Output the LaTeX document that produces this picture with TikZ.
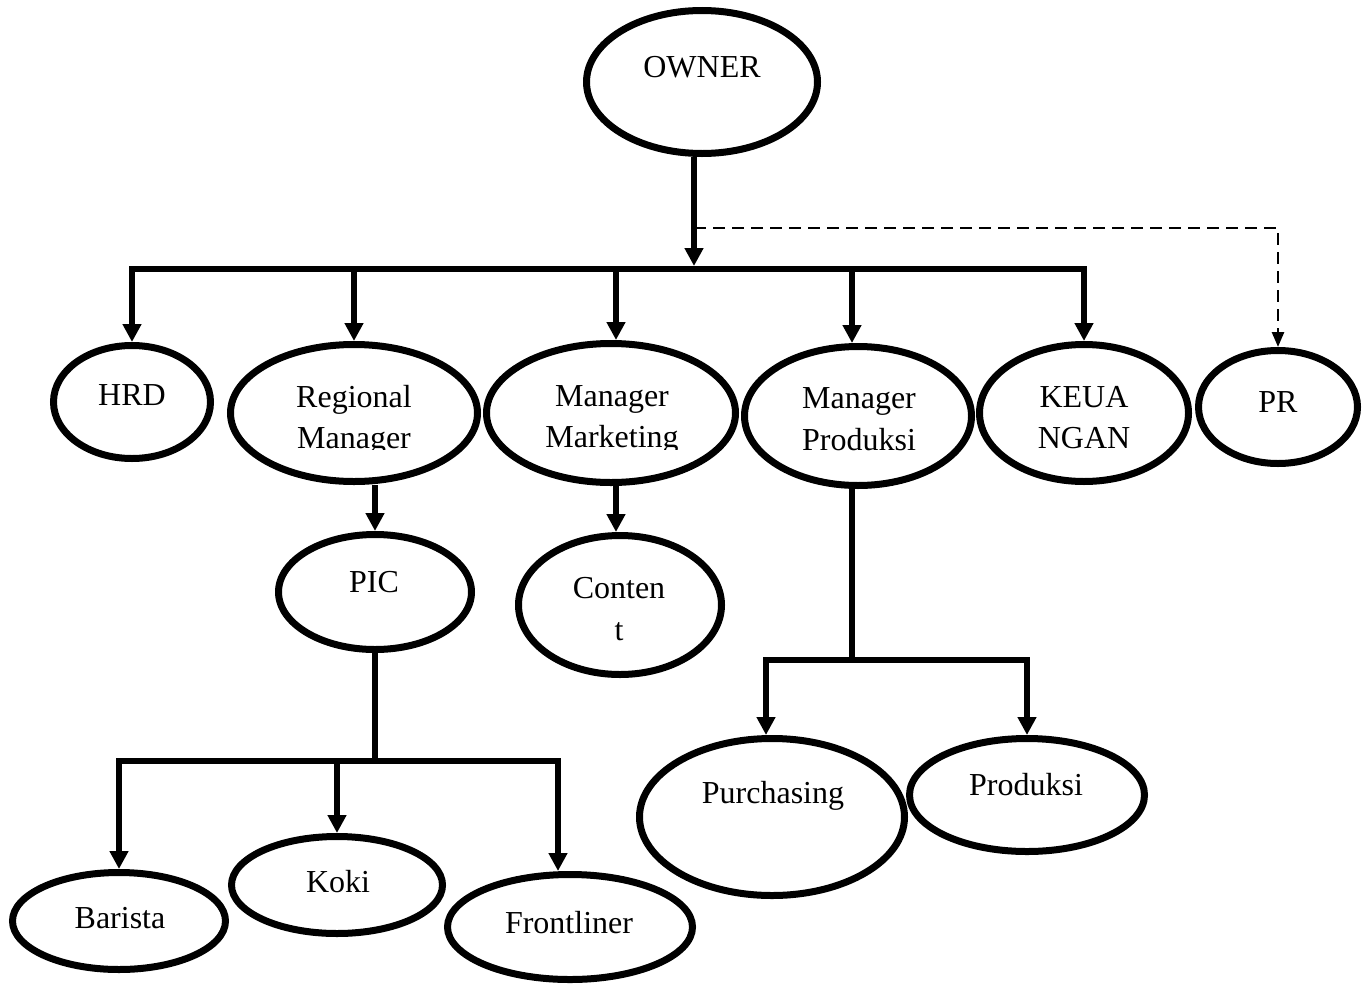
\documentclass[tikz,border=0pt]{standalone}
\usepackage{fontspec}
\setmainfont{Liberation Serif}
\usetikzlibrary{shapes.geometric,arrows.meta}
\begin{document}
\begin{tikzpicture}[x=0.5pt,y=-0.5pt,
  ell/.style={draw, ellipse, line width=3.5pt, inner sep=0pt},
  txt/.style={font=\fontsize{16}{20.5}\selectfont, inner sep=0pt, anchor=base},
  conn/.style={line width=3.25pt},
  arr/.style={line width=3.25pt, -{Triangle[width=9pt,length=9pt]}},
  darr/.style={line width=1.3pt, dash pattern=on 6pt off 3.5pt, -{Triangle[width=6pt,length=7.5pt]}}]
\path[use as bounding box] (0,0) rectangle (1370,985);

% ellipses: min width/height = (outer radius - 3.5) pt
\node[ell, minimum width=115.5pt, minimum height=71.5pt] (owner) at (702,82) {};
\node[ell, minimum width=78.5pt,  minimum height=56.5pt] (hrd)   at (132,402) {};
\node[ell, minimum width=123.5pt, minimum height=68.5pt] (reg)   at (354,413) {};
\node[ell, minimum width=124.5pt, minimum height=69.5pt] (mkt)   at (611,413) {};
\node[ell, minimum width=113.5pt, minimum height=69.5pt] (mprod) at (858,416) {};
\node[ell, minimum width=104.5pt, minimum height=68.5pt] (keu)   at (1084,413) {};
\node[ell, minimum width=79.5pt,  minimum height=56.5pt] (pr)    at (1278,407) {};
\node[ell, minimum width=96.5pt,  minimum height=57.5pt] (pic)   at (375,592) {};
\node[ell, minimum width=101.5pt, minimum height=69.5pt] (cont)  at (620,605) {};
\node[ell, minimum width=106.5pt, minimum height=48.5pt] (barista) at (119,921) {};
\node[ell, minimum width=105.5pt, minimum height=48.5pt] (koki)  at (337,885) {};
\node[ell, minimum width=122.5pt, minimum height=52.5pt] (front) at (570,927) {};
\node[ell, minimum width=132.5pt, minimum height=78.5pt] (purch) at (772,817) {};
\node[ell, minimum width=117.5pt, minimum height=56.5pt] (prod)  at (1027,795) {};

% texts
\node[txt] (t-owner) at (702,77) {OWNER};
\node[txt] (t-hrd) at (132,405) {HRD};
\node[txt] (t-reg1) at (354,407) {Regional};
\node[txt] (t-mkt1) at (612,406) {Manager};
\begin{scope}
  \clip (240,360) rectangle (740,449);
  \node[txt] (t-reg2) at (354,448) {Manager};
  \node[txt] (t-mkt2) at (612,447) {Marketing};
\end{scope}
\node[txt] (t-mp1) at (859,408) {Manager};
\node[txt] (t-mp2) at (859,450) {Produksi};
\node[txt] (t-keu1) at (1084,407) {KEUA};
\node[txt] (t-keu2) at (1084,448) {NGAN};
\node[txt] (t-pr) at (1278,412) {PR};
\node[txt] (t-pic) at (374,592) {PIC};
\node[txt] (t-cont1) at (619,598) {Conten};
\node[txt] (t-cont2) at (619,640) {t};
\node[txt] (t-bar) at (120,928) {Barista};
\node[txt] (t-koki) at (338,892) {Koki};
\node[txt] (t-front) at (569,933) {Frontliner};
\node[txt] (t-purch) at (773,803) {Purchasing};
\node[txt] (t-prod) at (1026,795) {Produksi};

% top connectors
\coordinate (oTop) at (694,157);
\coordinate (hub) at (694,269);
\coordinate (hubTip) at (694,266);
\coordinate (dS) at (694,228);
\draw[arr] (oTop) -- (hubTip);
\draw[arr] (hub) -| (hrd.north);
\draw[arr] (hub) -| (keu.north);
\draw[arr] (hub -| reg.north) -- (reg.north);
\coordinate (mktX) at (616,269);
\draw[arr] (mktX) -- (mktX |- mkt.north);
\coordinate (mpX) at (852,269);
\draw[arr] (mpX) -- (mpX |- mprod.north);
\draw[darr] (dS) -| (pr.north);

% Regional -> PIC, Marketing -> Content
\draw[arr] (pic.north |- reg.south) -- (pic.north);
\coordinate (ctX) at (616,486);
\draw[arr] (ctX) -- (ctX |- cont.north);

% PIC -> staff
\coordinate (h2) at (375,761);
\coordinate (h2R) at (558,761);
\draw[conn] (pic.south) -- (h2);
\draw[arr] (h2) -| (barista.north);
\draw[arr] (h2 -| koki.north) -- (koki.north);
\draw[arr] (h2) -- (h2R) -- (h2R |- front.north);

% Manager Produksi -> Purchasing, Produksi
\coordinate (h3) at (852,660);
\coordinate (h3L) at (766,660);
\draw[conn] (h3 |- mprod.south) -- (h3);
\draw[arr] (h3) -- (h3L) -- (h3L |- purch.north);
\draw[arr] (h3) -| (prod.north);
\end{tikzpicture}
\end{document}
